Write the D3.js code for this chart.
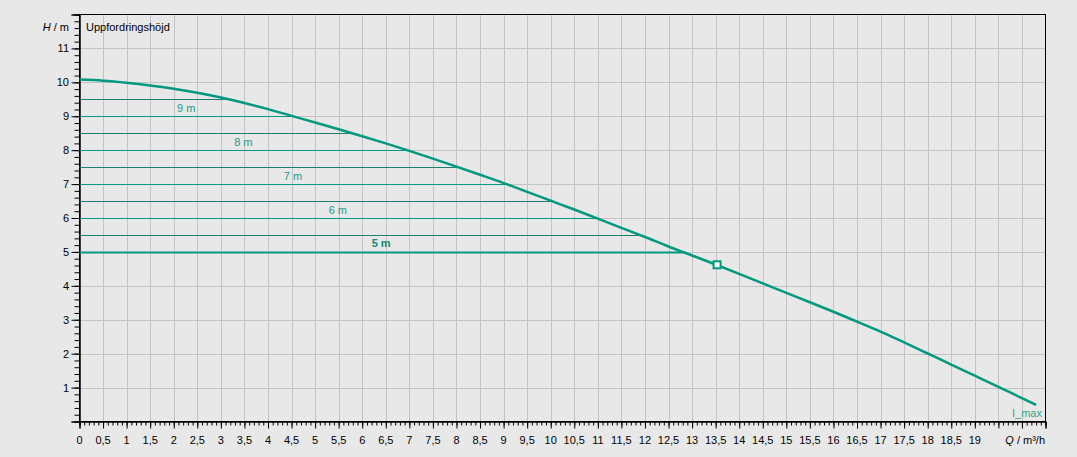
<!DOCTYPE html>
<html>
<head>
<meta charset="utf-8">
<script src="https://cdn.jsdelivr.net/npm/d3@7"></script>
<style>
  body { margin: 0; background: #e8e8e8; }
  svg { display: block; font-family: "Liberation Sans", Arial, sans-serif; }
</style>
</head>
<body>
<svg width="1077" height="457"></svg>
<script>
// Pump curve: head H (m) against flow Q (m³/h)

const flowQ = [0, 0.5, 1, 1.5, 2, 2.5, 3, 3.5, 4, 4.5, 5, 5.5, 6, 6.5, 7, 7.5, 8, 8.5, 9, 9.5, 10, 10.5, 11, 11.5, 12, 12.5, 13, 13.5, 14, 14.5, 15, 15.5, 16, 16.5, 17, 17.5, 18, 18.5, 19, 19.5, 20, 20.3];
const headH = [10.08, 10.05, 9.99, 9.91, 9.81, 9.69, 9.55, 9.39, 9.21, 9.01, 8.815, 8.615, 8.41, 8.2, 7.98, 7.75, 7.515, 7.275, 7.03, 6.77, 6.51, 6.25, 5.98, 5.71, 5.44, 5.16, 4.895, 4.63, 4.355, 4.07, 3.79, 3.515, 3.235, 2.945, 2.65, 2.33, 2.005, 1.68, 1.35, 1.02, 0.69, 0.49];

const headLevels = [9.5, 9, 8.5, 8, 7.5, 7, 6.5, 6, 5.5, 5];
const levelLabels = ["9 m", "8 m", "7 m", "6 m", "5 m"];
const labelLevels = [9, 8, 7, 6, 5];
const selectedLevel = 5;

const dutyQ = [13.53];
const dutyH = [4.62];

const xTickValues = d3.range(0, 19.01, 0.5);
const yTickValues = d3.range(1, 11.01, 1);

const teal = "#00997f";

const svg = d3.select("svg");
const x = d3.scaleLinear().domain([0, 20.5]).range([79.5, 1045.5]);
const y = d3.scaleLinear().domain([0, 12]).range([421.5, 14.5]);

const fmt = (v) => String(v).replace(".", ",");

// grid
svg.append("g")
  .selectAll("line")
  .data(d3.range(0.5, 20.5, 0.5))
  .enter()
  .append("line")
  .attr("x1", (d) => Math.round(x(d)) + 0.5)
  .attr("x2", (d) => Math.round(x(d)) + 0.5)
  .attr("y1", y(12))
  .attr("y2", y(0))
  .attr("stroke", "#c3c3c3");

svg.append("g")
  .selectAll("line")
  .data(yTickValues)
  .enter()
  .append("line")
  .attr("x1", x(0))
  .attr("x2", x(20.5))
  .attr("y1", (d) => Math.round(y(d)) + 0.5)
  .attr("y2", (d) => Math.round(y(d)) + 0.5)
  .attr("stroke", "#c3c3c3");

// frame
svg.append("rect")
  .attr("x", x(0))
  .attr("y", y(12))
  .attr("width", x(20.5) - x(0))
  .attr("height", y(0) - y(12))
  .attr("fill", "none")
  .attr("stroke", "#000");

// axes
const xMinor = d3.axisBottom(x).tickValues(d3.range(0, 20.501, 0.1)).tickSize(4).tickFormat("");
const xMajor = d3.axisBottom(x).tickValues(d3.range(0, 20.501, 0.5)).tickSize(7).tickFormat("");
const yMinor = d3.axisLeft(y).tickValues(d3.range(0, 12.001, 0.2)).tickSize(5).tickFormat("");
const yMajor = d3.axisLeft(y).tickValues(d3.range(0, 12.001, 1)).tickSize(8).tickFormat("");

[xMinor, xMajor].forEach((ax) => {
  svg.append("g").attr("transform", `translate(0,${y(0)})`).call(ax)
    .call((g) => g.select(".domain").attr("stroke", "#000"));
});
[yMinor, yMajor].forEach((ax) => {
  svg.append("g").attr("transform", `translate(${x(0)},0)`).call(ax)
    .call((g) => g.select(".domain").attr("stroke", "#000"));
});

svg.append("g")
  .selectAll("text")
  .data(xTickValues)
  .enter()
  .append("text")
  .attr("x", (d) => x(d))
  .attr("y", 444)
  .attr("text-anchor", "middle")
  .attr("font-size", 11)
  .attr("fill", "#000")
  .text(fmt);

svg.append("g")
  .selectAll("text")
  .data(yTickValues)
  .enter()
  .append("text")
  .attr("x", 69)
  .attr("y", (d) => y(d) + 4)
  .attr("text-anchor", "end")
  .attr("font-size", 11)
  .attr("fill", "#000")
  .text((d) => d);

// axis titles
const hTitle = svg.append("text").attr("x", 69).attr("y", 31).attr("text-anchor", "end").attr("font-size", 11);
hTitle.append("tspan").attr("font-style", "italic").text("H");
hTitle.append("tspan").text(" / m");

svg.append("text").attr("x", 86).attr("y", 31).attr("font-size", 11).text("Uppfordringshöjd");

const qTitle = svg.append("text").attr("x", 1045).attr("y", 444).attr("text-anchor", "end").attr("font-size", 11);
qTitle.append("tspan").attr("font-style", "italic").text("Q");
qTitle.append("tspan").text(" / m³/h");

// where the curve reaches a head level
const flowAt = (h) => {
  for (let i = 1; i < headH.length; i++) {
    if (headH[i] <= h && headH[i - 1] >= h) {
      const t = (headH[i - 1] - h) / (headH[i - 1] - headH[i]);
      return flowQ[i - 1] + t * (flowQ[i] - flowQ[i - 1]);
    }
  }
  return 0;
};

// head level lines
svg.append("g")
  .selectAll("line")
  .data(headLevels)
  .enter()
  .append("line")
  .attr("x1", x(0))
  .attr("x2", (d) => x(flowAt(d)))
  .attr("y1", (d) => Math.round(y(d)) + 0.5)
  .attr("y2", (d) => Math.round(y(d)) + 0.5)
  .attr("stroke", (d) => (d % 1 === 0 ? "#009a80" : "#1d7f6e"))
  .attr("stroke-width", (d) => (d === selectedLevel ? 2 : 1));

svg.append("g")
  .selectAll("text")
  .data(labelLevels)
  .enter()
  .append("text")
  .attr("x", (d) => x(flowAt(d) / 2))
  .attr("y", (d) => y(d + 0.25) + 4)
  .attr("text-anchor", "middle")
  .attr("font-size", 11)
  .attr("font-weight", (d) => (d === selectedLevel ? "bold" : "normal"))
  .attr("fill", (d) => (d === selectedLevel ? "#0d8a76" : "#1a9c8a"))
  .text((d, i) => levelLabels[i]);

// pump curve
const line = d3.line()
  .x((d, i) => x(flowQ[i]))
  .y((d) => y(d))
  .curve(d3.curveMonotoneX);

svg.append("path")
  .datum(headH)
  .attr("d", line)
  .attr("fill", "none")
  .attr("stroke", teal)
  .attr("stroke-width", 2.5);

// duty point
svg.append("g")
  .selectAll("rect")
  .data(dutyQ)
  .enter()
  .append("rect")
  .attr("x", (d) => x(d) - 3.5)
  .attr("y", (d, i) => y(dutyH[i]) - 3.5)
  .attr("width", 7)
  .attr("height", 7)
  .attr("fill", "#fff")
  .attr("stroke", teal)
  .attr("stroke-width", 2);

svg.append("text")
  .attr("x", 1042)
  .attr("y", 417)
  .attr("text-anchor", "end")
  .attr("font-size", 11)
  .attr("fill", "#2aa890")
  .text("I_max");
</script>
</body>
</html>
